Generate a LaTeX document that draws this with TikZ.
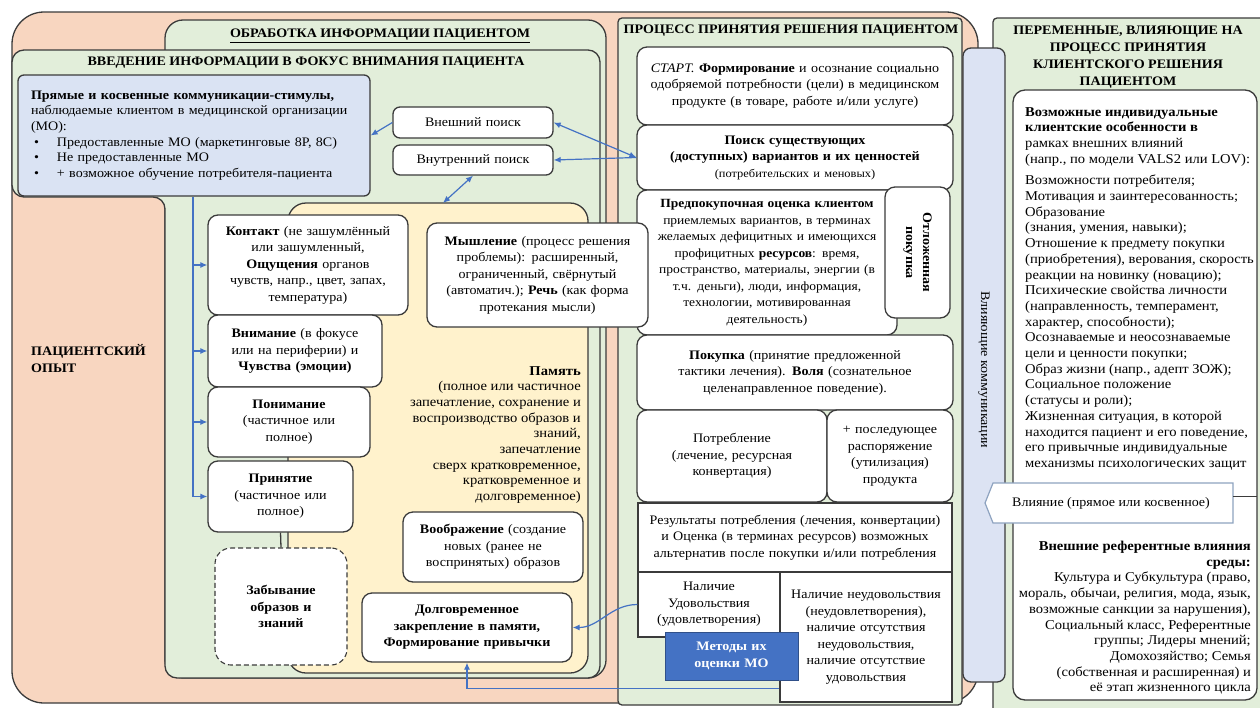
\documentclass[tikz,border=0pt]{standalone}
\usepackage{fontspec}
\setmainfont{Liberation Serif}[FakeStretch=1.08]
\usetikzlibrary{arrows.meta,calc}

\definecolor{peach}{HTML}{F8D6C0}
\definecolor{sage}{HTML}{E2EEDA}
\definecolor{cream}{HTML}{FFF2CC}
\definecolor{stimblue}{HTML}{DAE3F3}
\definecolor{barblue}{HTML}{DCE3F3}
\definecolor{linkblue}{HTML}{4472C4}
\definecolor{methblue}{HTML}{4472C4}
\definecolor{edge}{HTML}{3B3B3B}
\definecolor{callout}{HTML}{8EA3C0}

% box from corner (x1,y1) to (x2,y2): name, x1, y1, x2, y2, style, text
\newcommand\placebox[7]{%
  \pgfmathsetmacro\pbx{(#2+#4)/2}%
  \pgfmathsetmacro\pby{(#3+#5)/2}%
  \pgfmathsetmacro\pbw{#4-#2}%
  \pgfmathsetmacro\pbh{#5-#3}%
  \pgfmathsetmacro\pbt{#4-#2-8}%
  \node[minimum width=\pbw pt, minimum height=\pbh pt, text width=\pbt pt, #6] (#1) at (\pbx,\pby) {#7};}
\newcommand\stimbullet{\makebox[26pt][l]{\hspace{3pt}•}}

\tikzset{
  edgeline/.style={draw=edge, line width=1.3pt},
  body/.style={font=\fontsize{13}{16.5}\selectfont},
  dense/.style={font=\fontsize{13.5}{15.7}\selectfont},
  heading/.style={font=\bfseries\fontsize{13}{17}\selectfont, inner sep=0pt},
  wbox/.style={edgeline, fill=white, rounded corners=10pt, align=center, inner sep=0pt, body},
  sqbox/.style={edgeline, fill=white, align=center, inner sep=0pt, body},
  link/.style={draw=linkblue, line width=1.2pt},
  arrowlink/.style={link, -{Latex[length=7pt,width=6pt]}},
  duallink/.style={link, {Latex[length=7pt,width=6pt]}-{Latex[length=7pt,width=6pt]}},
}

\begin{document}
\begin{tikzpicture}[x=1pt,y=-1pt]
\useasboundingbox (0,0) rectangle (1260,707);
\clip (0,0) rectangle (1260,707);
\fill[white] (0,0) rectangle (1260,707);

% patient experience backdrop
\draw[edgeline, fill=peach, rounded corners=32pt] (12,12) rectangle (978,703);
\node[heading, align=left, anchor=west] (experience) at (31,359) {ПАЦИЕНТСКИЙ\\ОПЫТ};

% information processing
\draw[edgeline, fill=sage, rounded corners=18pt] (165,20) rectangle (606,678);
\node[heading] (processing) at (380,36) {\underline{ОБРАБОТКА ИНФОРМАЦИИ ПАЦИЕНТОМ}};
\draw[edgeline, fill=sage, rounded corners=12pt]
  (12,50) -- (600,50) -- (600,678) -- (165,678) -- (165,197) -- (12,197) -- cycle;
\node[heading] (focus) at (306,63) {ВВЕДЕНИЕ ИНФОРМАЦИИ В ФОКУС ВНИМАНИЯ ПАЦИЕНТА};

\placebox{stim}{18}{75}{370}{196}{edgeline, fill=stimblue, rounded corners=6pt, align=left,
  inner sep=0pt, font=\fontsize{13}{15.6}\selectfont, text width=326pt}{%
\textbf{Прямые и косвенные коммуникации-стимулы,}\\
наблюдаемые клиентом в медицинской организации\\
(МО):\\
\stimbullet Предоставленные МО (маркетинговые 8P, 8C)\\
\stimbullet Не предоставленные МО\\
\stimbullet + возможное обучение потребителя-пациента}

\placebox{ext}{393}{107}{553}{138}{wbox, rounded corners=7pt}{Внешний поиск}
\placebox{int}{393}{145}{553}{175}{wbox, rounded corners=7pt}{Внутренний поиск}

% memory area
\draw[edgeline, fill=cream, rounded corners=18pt] (288,203) rectangle (588,673);
\coordinate (memtop) at (443,203);

\placebox{contact}{208}{215}{408}{315}{wbox}{\textbf{Контакт} (не зашумлённый\\или зашумленный,\\\textbf{Ощущения} органов\\чувств, напр., цвет, запах,\\температура)}
\placebox{attn}{208}{315}{382}{387}{wbox}{\textbf{Внимание} (в фокусе\\или на периферии) и\\\textbf{Чувства (эмоции)}}
\placebox{underst}{208}{387}{370}{457}{wbox}{\textbf{Понимание}\\(частичное или\\полное)}
\placebox{accept}{208}{461}{353}{532}{wbox}{\textbf{Принятие}\\(частичное или\\полное)}
\placebox{forget}{215}{548}{347}{665}{wbox, dash pattern=on 5pt off 3pt, rounded corners=16pt, line width=1.1pt}{\textbf{Забывание}\\\textbf{образов и}\\\textbf{знаний}}

\node[dense, align=right, anchor=north east, inner sep=0pt] (memtext) at (581,366) {%
\textbf{Память}\\
(полное или частичное\\
запечатление, сохранение и\\
воспроизводство образов и\\
знаний,\\
запечатление\hspace*{20pt}\\
сверх кратковременное,\\
кратковременное и\\
долговременное)};

\placebox{imag}{403}{512}{583}{582}{wbox}{\textbf{Воображение} (создание\\новых (ранее не\\воспринятых) образов}
\placebox{lt}{362}{593}{572}{662}{wbox}{\textbf{Долговременное}\\\textbf{закрепление в памяти,}\\\textbf{Формирование привычки}}

% decision process column
\draw[edgeline, fill=sage, rounded corners=4pt] (618,18) rectangle (962,705);
\node[heading] (decision) at (791,31) {ПРОЦЕСС ПРИНЯТИЯ РЕШЕНИЯ ПАЦИЕНТОМ};
\placebox{start}{637}{47}{953}{125}{wbox}{\textit{СТАРТ.} \textbf{Формирование} и осознание социально\\одобряемой потребности (цели) в медицинском\\продукте (в товаре, работе и/или услуге)}
\placebox{search}{637}{125}{953}{190}{wbox}{\textbf{Поиск существующих}\\\textbf{(доступных) вариантов и их ценностей}\\{\fontsize{11.5}{14}\selectfont (потребительских и меновых)}}
\placebox{eval}{637}{190}{897}{335}{wbox, font=\fontsize{12.5}{16.5}\selectfont}{\textbf{Предпокупочная оценка клиентом}\\приемлемых вариантов, в терминах\\желаемых дефицитных и имеющихся\\профицитных \textbf{ресурсов}: время,\\пространство, материалы, энергии (в\\т.ч. деньги), люди, информация,\\технологии, мотивированная\\деятельность)}
\placebox{delay}{885}{187}{950}{318}{wbox}{}
\node[rotate=-90, heading, align=center] (delaytext) at (delay.center) {Отложенная\\покупка};
\placebox{buy}{637}{335}{953}{410}{wbox}{\textbf{Покупка} (принятие предложенной\\тактики лечения). \textbf{Воля} (сознательное\\целенаправленное поведение).}
\placebox{use}{637}{410}{827}{502}{wbox}{Потребление\\(лечение, ресурсная\\конвертация)}
\placebox{dispose}{827}{410}{953}{502}{wbox}{+ последующее\\распоряжение\\(утилизация)\\продукта}
\placebox{results}{638}{503}{952}{572}{sqbox}{Результаты потребления (лечения, конвертации)\\и Оценка (в терминах ресурсов) возможных\\альтернатив после покупки и/или потребления}
\placebox{sat}{638}{572}{780}{637}{sqbox}{Наличие\\Удовольствия\\(удовлетворения)}
\placebox{dis}{780}{572}{952}{702}{sqbox}{Наличие неудовольствия\\(неудовлетворения),\\наличие отсутствия\\неудовольствия,\\наличие отсутствие\\удовольствия}
\placebox{methods}{665}{632}{798}{680}{draw=methblue!70!black, line width=0.8pt, fill=methblue, text=white, align=center, inner sep=0pt, font=\bfseries\fontsize{13}{16.5}\selectfont}{Методы их\\оценки МО}

% thinking box lies over the column edge
\placebox{think}{427}{223}{648}{327}{wbox}{\textbf{Мышление} (процесс решения\\проблемы): расширенный,\\ограниченный, свёрнутый\\(автоматич.); \textbf{Речь} (как форма\\протекания мысли)}

% variables panel
\draw[edgeline, fill=sage, rounded corners=4pt] (993,18) rectangle (1280,720);
\node[heading, align=center] (vars) at (1128,57) {ПЕРЕМЕННЫЕ, ВЛИЯЮЩИЕ НА\\ПРОЦЕСС ПРИНЯТИЯ\\КЛИЕНТСКОГО РЕШЕНИЯ\\ПАЦИЕНТОМ};
\draw[edgeline, fill=white, rounded corners=12pt] (1013,90) rectangle (1257,700);
\node[dense, align=left, anchor=north west, inner sep=0pt] (indiv) at (1025,107) {%
\textbf{Возможные индивидуальные}\\
\textbf{клиентские особенности в}\\
рамках внешних влияний\\
(напр., по модели VALS2 или LOV):\\[6pt]
Возможности потребителя;\\
Мотивация и заинтересованность;\\
Образование\\
(знания, умения, навыки);\\
Отношение к предмету покупки\\
(приобретения), верования, скорость\\
реакции на новинку (новацию);\\
Психические свойства личности\\
(направленность, темперамент,\\
характер, способности);\\
Осознаваемые и неосознаваемые\\
цели и ценности покупки;\\
Образ жизни (напр., адепт ЗОЖ);\\
Социальное положение\\
(статусы и роли);\\
Жизненная ситуация, в которой\\
находится пациент и его поведение,\\
его привычные индивидуальные\\
механизмы психологических защит};
\node[dense, align=right, anchor=north east, inner sep=0pt] (envir) at (1251,541) {%
\textbf{Внешние референтные влияния}\\
\textbf{среды:}\\
Культура и Субкультура (право,\\
мораль, обычаи, религия, мода, язык,\\
возможные санкции за нарушения),\\
Социальный класс, Референтные\\
группы; Лидеры мнений;\\
Домохозяйство; Семья\\
(собственная и расширенная) и\\
её этап жизненного цикла};

% communications bar
\draw[edgeline, fill=barblue, rounded corners=8pt] (963,48) rectangle (1005,682);
\node[rotate=-90, body] (comms) at (984,370) {Влияющие коммуникации};

% influence callout
\draw[draw=callout, fill=white, line width=1.2pt]
  (1233,483) -- (993,483) -- (985,503) -- (993,523) -- (1233,523) -- cycle;
\draw[edgeline, line width=1pt] (1233,496) -- (1257,496);
\node[body] (influence) at (1111,503) {Влияние (прямое или косвенное)};

% connectors
\draw[arrowlink] (ext.west) -- (stim.east);
\draw[duallink] (ext.east) -- (search.west);
\draw[arrowlink] (search.west) -- (int.east);
\draw[duallink] (int.south) -- (memtop);

\coordinate (trunk) at (193,197);
\draw[link] (trunk) -- (trunk |- accept.west);
\foreach \b in {contact,attn,underst,accept}
  \draw[arrowlink] (trunk |- \b.west) -- (\b.west);
\draw[edgeline] (accept.south) -- (forget.north);

\draw[arrowlink] (sat.west) to[out=180, in=0] (lt.east);
\coordinate (disout) at ($(dis.south west)+(0,-14)$);
\draw[arrowlink] (disout) -| (lt.south);
\end{tikzpicture}
\end{document}
